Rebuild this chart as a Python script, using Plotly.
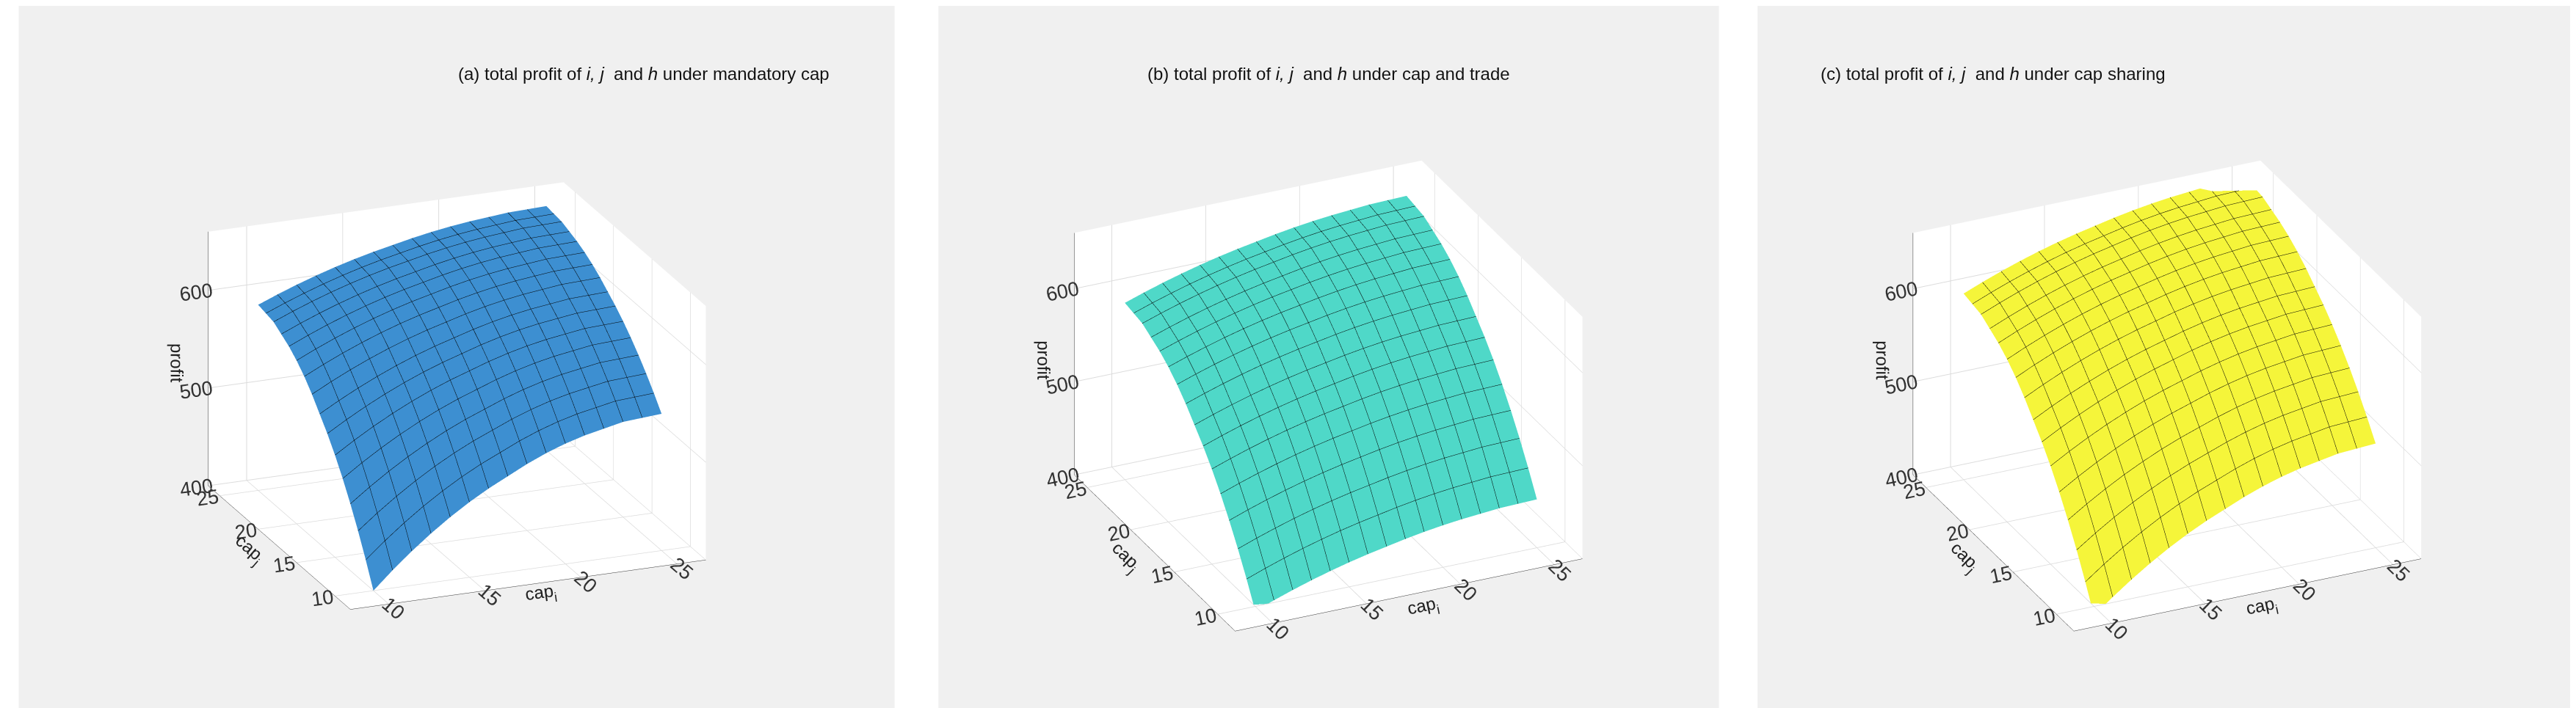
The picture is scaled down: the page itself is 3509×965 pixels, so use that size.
import plotly.graph_objects as go
import numpy as np

cap = list(range(10, 26))
# normalized concave profile read from the surface edges
shape_i = [0, 0.13, 0.25, 0.36, 0.46, 0.55, 0.63, 0.70, 0.77, 0.83, 0.88, 0.92, 0.95, 0.98, 0.99, 1.0]
shape_j = [0, 0.13, 0.25, 0.36, 0.46, 0.55, 0.63, 0.70, 0.77, 0.83, 0.88, 0.92, 0.95, 0.98, 0.99, 1.0]
# corner profits: (i10,j10), (i25,j10), (i10,j25), (i25,j25)
corners_a = [400, 540, 590, 650]
corners_b = [395, 452, 590, 642]
corners_c = [390, 512, 600, 662]
titles = ["(a) total profit of <i>i, j</i>  and <i>h</i> under mandatory cap",
          "(b) total profit of <i>i, j</i>  and <i>h</i> under cap and trade",
          "(c) total profit of <i>i, j</i>  and <i>h</i> under cap sharing"]
colors = ["#3d8fd1", "#4fd8c8", "#f5f53a"]

def surf(c):
    z00, z10, z01, z11 = c
    si = np.array(shape_i)[None, :]
    sj = np.array(shape_j)[:, None]
    return z00 + (z10 - z00) * si + (z01 - z00) * sj + (z11 - z10 - z01 + z00) * si * sj

fig = go.Figure()
doms = [(0.005, 0.345), (0.362, 0.665), (0.68, 0.998)]
eyes = [dict(x=-0.42, y=-1.05, z=0.42), dict(x=-0.5, y=-1.08, z=0.6), dict(x=-0.5, y=-1.08, z=0.6)]
for k, cs in enumerate([corners_a, corners_b, corners_c]):
    sc = "scene" if k == 0 else f"scene{k+1}"
    fig.add_trace(go.Surface(x=cap, y=cap, z=surf(cs), scene=sc, showscale=False,
        colorscale=[[0, colors[k]], [1, colors[k]]],
        lighting=dict(ambient=1.0, diffuse=0.15, specular=0.0, roughness=1.0, fresnel=0),
        lightposition=dict(x=-1000, y=-3000, z=5000),
        contours=dict(x=dict(show=True, start=10, end=25, size=1, color="black", width=1),
                      y=dict(show=True, start=10, end=25, size=1, color="black", width=1)),
        hoverinfo="skip"))
    ax = dict(backgroundcolor="white", showbackground=True, gridcolor="#dcdcdc",
              linecolor="#333", tickfont=dict(size=18, color="#333"), showspikes=False)
    fig.layout[sc] = dict(
        domain=dict(x=[doms[k][0], doms[k][1]], y=[0.0, 0.9]),
        xaxis=dict(ax, title=dict(text="cap<sub>i</sub>", font=dict(size=24, color="#222")), range=[8, 26.5], tickvals=[10, 15, 20, 25]),
        yaxis=dict(ax, title=dict(text="cap<sub>j</sub>", font=dict(size=24, color="#222")), range=[8, 26.5], tickvals=[10, 15, 20, 25]),
        zaxis=dict(ax, title=dict(text="profit", font=dict(size=24, color="#222")), range=[400, 660], tickvals=[400, 500, 600]),
        aspectmode="manual", aspectratio=dict(x=1.2, y=1.2, z=0.85),
        camera=dict(eye=eyes[k], projection=dict(type="orthographic")))
    fig.add_shape(type="rect", xref="paper", yref="paper", x0=doms[k][0], x1=doms[k][1], y0=0.0, y1=1.0,
                  fillcolor="#f0f0f0", line=dict(width=0), layer="below")
    fig.add_annotation(text=titles[k], xref="paper", yref="paper", x=(doms[k][0] + doms[k][1]) / 2, y=0.92,
                       showarrow=False, font=dict(size=24, color="#111"))

fig.update_layout(width=3509, height=965, paper_bgcolor="white", margin=dict(l=0, r=0, t=0, b=0),
                  font=dict(family="Arial, Liberation Sans"))
fig.write_html("out.html")
